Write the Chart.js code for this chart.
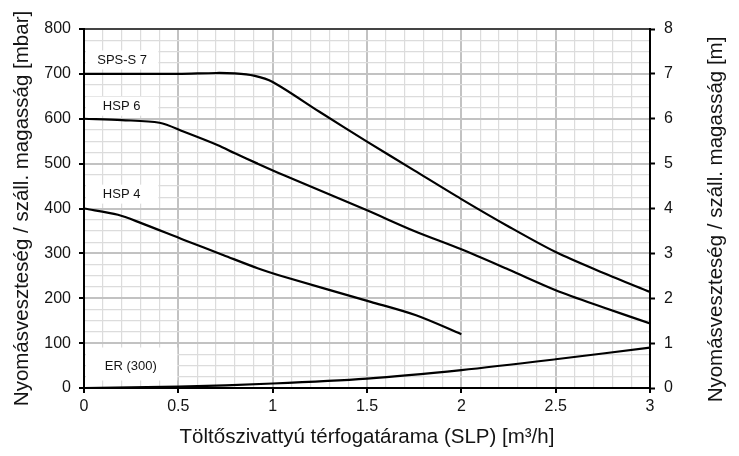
<!DOCTYPE html>
<html>
<head>
<meta charset="utf-8">
<script src="https://cdn.jsdelivr.net/npm/chart.js@4"></script>
<style>
  html, body { margin: 0; padding: 0; background: #fff; }
  #wrap { width: 739px; height: 456px; }
</style>
</head>
<body>
<div id="wrap"><canvas id="c" width="739" height="456"></canvas></div>
<script>
// flow rate [m3/h] vs. head [mbar]
const spsX = [0, 0.5, 0.7, 0.8, 0.9, 1.0, 1.25, 1.5, 1.75, 2.0, 2.25, 2.5, 2.75, 3.0]
const spsY = [700, 700, 702, 701, 696, 682, 615, 549, 485, 421, 360, 303, 257, 214]

const hsp6X = [0, 0.2, 0.4, 0.53, 0.71, 0.8, 0.92, 1.06, 1.5, 1.75, 2.0, 2.25, 2.5, 2.75, 3.0]
const hsp6Y = [600, 597, 591, 571, 541, 523, 500, 474, 396, 350, 309, 264, 218, 180, 144]

const hsp4X = [0, 0.18, 0.3, 0.53, 0.74, 0.92, 1.06, 1.52, 1.76, 2.0]
const hsp4Y = [400, 386, 368, 330, 296, 267, 248, 192, 162, 120]

const erX = [0, 0.5, 1.0, 1.5, 2.0, 2.5, 3.0]
const erY = [0, 3, 10, 21, 40, 64, 90]

// curve names with their label anchor (x, y in data units)
const curveNames = ["SPS-S 7", "HSP 6", "HSP 4", "ER (300)"]
const labelX = [0.07, 0.1, 0.1, 0.11]
const labelY = [731, 628, 432, 49]

const xTickLabels = ["0", "0.5", "1", "1.5", "2", "2.5", "3"]

const FONT = "'Liberation Sans', Arial, sans-serif"
const INK = "#141414"

function pts(xs, ys) {
  return xs.map((x, i) => ({x: x, y: ys[i]}))
}

function curve(label, xs, ys) {
  return {
    label: label,
    data: pts(xs, ys),
    borderColor: "#000",
    borderWidth: 2.2,
    pointRadius: 0,
    fill: false,
    tension: 0.3,
    xAxisID: "x",
    yAxisID: "y"
  }
}

const isMult = (v, step) => Math.abs(v / step - Math.round(v / step)) < 1e-6

// white boxes with curve names, placed through the scales
const curveLabels = {
  id: "curveLabels",
  afterDatasetsDraw(chart) {
    const {ctx, scales} = chart
    ctx.save()
    ctx.font = "13px " + FONT
    ctx.textBaseline = "middle"
    curveNames.forEach((name, i) => {
      const px = scales.x.getPixelForValue(labelX[i])
      const py = scales.y.getPixelForValue(labelY[i])
      const left = scales.x.left + 2
      const right = scales.x.getPixelForValue(i === 3 ? 0.5 : 0.4) - 1
      const h = i === 3 ? 33 : 19
      ctx.fillStyle = "#fff"
      ctx.fillRect(left, py - h / 2 + (i === 3 ? -2 : 0), right - left, h)
      ctx.fillStyle = INK
      ctx.fillText(name, px, py)
    })
    ctx.restore()
  },
  afterDraw(chart) {
    // right axis title, read bottom to top like the left one
    const s = chart.scales.y2
    const {ctx} = chart
    ctx.save()
    ctx.translate(s.right - 23, (s.top + s.bottom) / 2 + 11)
    ctx.rotate(-Math.PI / 2)
    ctx.font = "20.5px " + FONT
    ctx.fillStyle = INK
    ctx.textAlign = "center"
    ctx.textBaseline = "middle"
    ctx.fillText("Nyomásveszteség / száll. magasság [m]", 0, 0)
    ctx.restore()
  }
}

new Chart(document.getElementById("c"), {
  type: "line",
  data: {
    datasets: [
      curve("SPS-S 7", spsX, spsY),
      curve("HSP 6", hsp6X, hsp6Y),
      curve("HSP 4", hsp4X, hsp4Y),
      curve("ER (300)", erX, erY)
    ]
  },
  plugins: [curveLabels],
  options: {
    responsive: false,
    animation: false,
    layout: {padding: 0},
    plugins: {legend: {display: false}, tooltip: {enabled: false}},
    scales: {
      x: {
        type: "linear",
        position: "bottom",
        min: 0, max: 3,
        afterFit: s => { s.height = 68 },
        border: {color: "#000", width: 2},
        grid: {
          color: c => isMult(c.tick.value, 0.5) ? "#c2c2c2" : "#dcdcdc",
          lineWidth: c => isMult(c.tick.value, 0.5) ? 2 : 1.2,
          tickColor: c => isMult(c.tick.value, 0.5) ? "#000" : "rgba(0,0,0,0)",
          tickWidth: 2,
          tickLength: 5
        },
        ticks: {
          stepSize: 0.1,
          autoSkip: false,
          maxRotation: 0,
          padding: 4,
          color: INK,
          font: {family: FONT, size: 16},
          callback: v => isMult(v, 0.5) ? xTickLabels[Math.round(v * 2)] : ""
        },
        title: {
          display: true,
          text: "Töltőszivattyú térfogatárama (SLP) [m³/h]",
          color: INK,
          font: {family: FONT, size: 20.5},
          padding: {top: 0, bottom: 6}
        }
      },
      xTop: {
        type: "linear",
        position: "top",
        min: 0, max: 3,
        afterFit: s => { s.height = 29 },
        border: {color: "#444", width: 2},
        grid: {drawOnChartArea: false, drawTicks: false},
        ticks: {display: false}
      },
      y: {
        type: "linear",
        position: "left",
        min: 0, max: 800,
        afterFit: s => { s.width = 84 },
        border: {color: "#000", width: 2},
        grid: {
          color: c => isMult(c.tick.value, 100) ? "#c2c2c2" : "#dcdcdc",
          lineWidth: c => isMult(c.tick.value, 100) ? 2 : 1.2,
          tickColor: c => isMult(c.tick.value, 100) ? "#000" : "rgba(0,0,0,0)",
          tickWidth: 2,
          tickLength: 5
        },
        ticks: {
          stepSize: 25,
          autoSkip: false,
          padding: 8,
          color: INK,
          font: {family: FONT, size: 16},
          callback: v => isMult(v, 100) ? String(v) : ""
        },
        title: {
          display: true,
          text: "Nyomásveszteség / száll. magasság [mbar]",
          color: INK,
          font: {family: FONT, size: 20.5},
          padding: {top: 10, bottom: 0}
        }
      },
      y2: {
        type: "linear",
        position: "right",
        min: 0, max: 8,
        afterFit: s => { s.width = 89 },
        border: {color: "#000", width: 2},
        grid: {
          drawOnChartArea: false,
          tickColor: c => isMult(c.tick.value, 1) ? "#000" : "rgba(0,0,0,0)",
          tickWidth: 2,
          tickLength: 5
        },
        ticks: {
          stepSize: 0.25,
          autoSkip: false,
          padding: 9,
          color: INK,
          font: {family: FONT, size: 16},
          callback: v => isMult(v, 1) ? String(v) : ""
        }
      }
    }
  }
})
</script>
</body>
</html>
